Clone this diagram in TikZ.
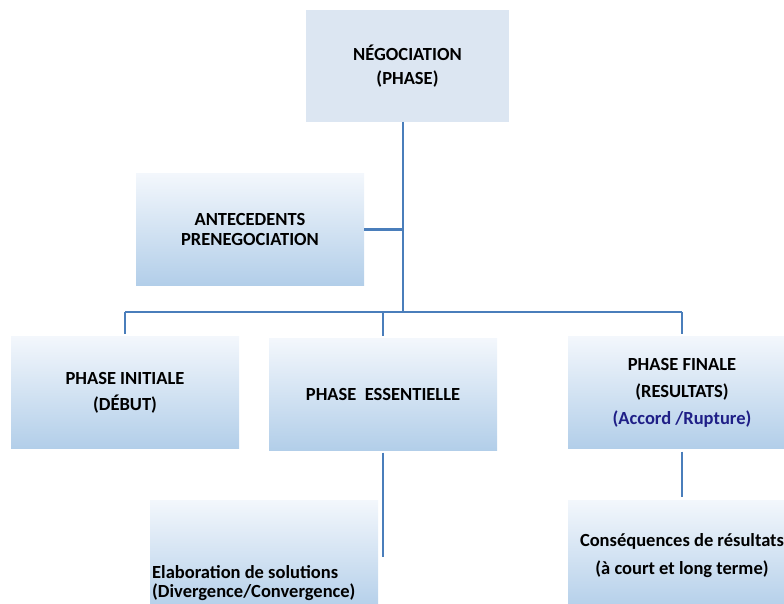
\documentclass[tikz,border=0pt]{standalone}
\usepackage{fontspec}
\setmainfont{Carlito}
\definecolor{linkblue}{RGB}{74,126,187}
\definecolor{boxtop}{RGB}{243,247,252}
\definecolor{boxbot}{RGB}{178,206,233}
\definecolor{boxflat}{RGB}{220,230,242}
\definecolor{navy}{RGB}{31,31,135}
\begin{document}
\begin{tikzpicture}[x=1pt,y=-1pt,
  card/.style={inner sep=0pt,outer sep=0pt,minimum width=228pt,minimum height=112pt,align=center,font=\fontsize{18.5}{26}\selectfont\bfseries},
  shadedcard/.style={card,top color=boxtop,bottom color=boxbot},
  link/.style={draw=linkblue,line width=2.8pt}]
\useasboundingbox (0,0) rectangle (784,604);
\clip (0,0) rectangle (784,604);
\node[card,fill=boxflat,minimum width=203pt,font=\fontsize{18.5}{24}\selectfont\bfseries] (nego) at (407.5,66) {NÉGOCIATION\\(PHASE)};
\node[shadedcard,font=\fontsize{18.5}{20}\selectfont\bfseries] (ante) at (250,229.5) {ANTECEDENTS\\PRENEGOCIATION};
\node[shadedcard] (init) at (125,392.5) {PHASE INITIALE\\(DÉBUT)};
\node[shadedcard] (ess) at (383,394.5) {PHASE\ \ ESSENTIELLE};
\node[shadedcard,font=\fontsize{18.5}{27}\selectfont\bfseries] (fin) at (682,392.5) {PHASE FINALE\\(RESULTATS)\\{\color{navy}(Accord /Rupture)}};
\node[shadedcard,font=\fontsize{18.5}{28}\selectfont\bfseries] (cons) at (682,556) {Conséquences de résultats\\(à court et long terme)};
\node[shadedcard] (elab) at (264,556) {};
\node[anchor=west,align=left,inner sep=0pt,font=\fontsize{18.5}{19}\selectfont\bfseries] (elabtxt) at (152,583) {Elaboration de solutions\\(Divergence/Convergence)};
\coordinate (bus) at (403,312);
\coordinate (esstail) at (383,557);
\draw[link] (nego.south -| bus) -- (bus);
\draw[link] (ante.east) -- (ante.east -| bus);
\draw[link] (init.north |- bus) -- (fin.north |- bus);
\foreach \n in {init,ess,fin}\draw[link] (\n.north |- bus) -- ([yshift=3pt]\n.north);
\draw[link] ([yshift=-2pt]ess.south) -- (esstail);
\draw[link] ([yshift=-3pt]fin.south) -- ([yshift=3pt]cons.north);
\end{tikzpicture}
\end{document}
